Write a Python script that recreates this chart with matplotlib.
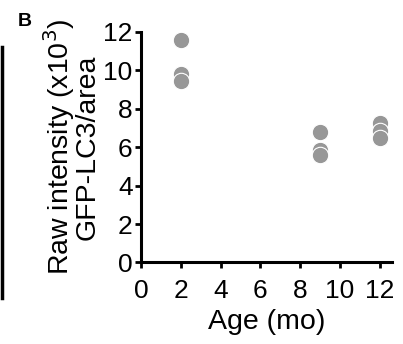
import matplotlib.pyplot as plt
from matplotlib.lines import Line2D

plt.rcParams['font.family'] = ['Liberation Sans', 'DejaVu Sans']

# Data
age = [2, 2, 2, 9, 9, 9, 12, 12, 12]
intensity = [11.55, 9.8, 9.45, 6.8, 5.87, 5.6, 7.25, 6.83, 6.46]

fig = plt.figure(figsize=(4.03, 3.44), dpi=100)
ax = fig.add_axes([0.350, 0.237, 0.622, 0.671])

ax.scatter(age, intensity, s=140, color='#979797', edgecolors='white', linewidths=0.8, zorder=3, clip_on=False)

ax.set_xlim(0, 12.6)
ax.set_ylim(0, 12)
ax.set_xticks([0, 2, 4, 6, 8, 10, 12])
ax.set_yticks([0, 2, 4, 6, 8, 10, 12])

for s in ['top', 'right']:
    ax.spines[s].set_visible(False)
for s in ['left', 'bottom']:
    ax.spines[s].set_linewidth(2.2)
ax.tick_params(width=2, length=4, labelsize=19)
ax.tick_params(axis='x', pad=8)
ax.tick_params(axis='y', pad=2)

ax.set_xlabel('Age (mo)', fontsize=20.5, labelpad=4)
ax.set_ylabel('Raw intensity (x10$^3$)\nGFP-LC3/area', fontsize=20.5, labelpad=2, linespacing=0.88)

fig.text(0.045, 0.962, 'B', fontsize=14, fontweight='bold', va='top')
fig.add_artist(Line2D([0.006, 0.006], [1 - 47 / 344, 1 - 298 / 344], color='black', linewidth=2.5))

fig.savefig('out.png', dpi=100)
